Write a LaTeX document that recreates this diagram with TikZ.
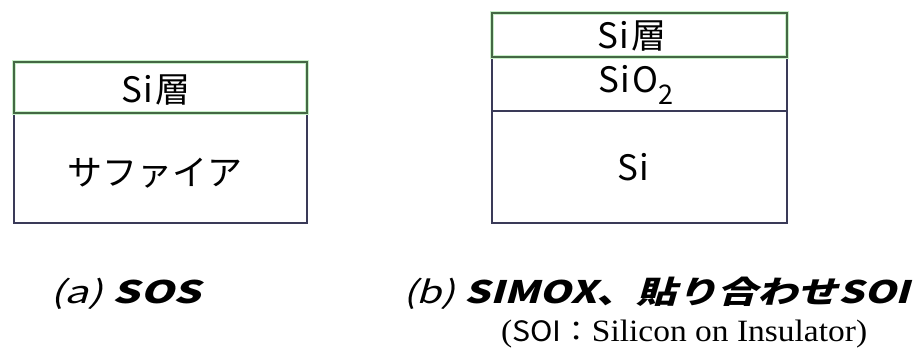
\documentclass[tikz,border=0pt]{standalone}
\usepackage{fontspec}
\usepackage{graphicx}
\setmainfont{Liberation Serif}
\newfontfamily\jpfont{Noto Sans CJK JP}
\newfontfamily\jpslant[FakeSlant=0.22]{Noto Sans CJK JP}
\definecolor{layergreen}{RGB}{68,104,68}
\definecolor{layerglow}{RGB}{200,240,200}
\definecolor{layernavy}{RGB}{58,58,88}
\tikzset{
  wafer/.style={draw=layernavy, line width=1.5pt},
  silayer/.style={draw=layergreen, line width=1.5pt},
  glow/.style={draw=layerglow, line width=3.6pt},
  layertext/.style={font=\jpfont\fontsize{35}{38}\selectfont, inner sep=0pt},
  caption/.style={anchor=base west, inner sep=0pt},
}
\begin{document}
\begin{tikzpicture}[x=1pt, y=-1pt]
  \useasboundingbox (0,0) rectangle (919,354);
  \fill[white] (0,0) rectangle (919,354);

  % (a) silicon on sapphire
  \draw[wafer] (14,62) rectangle (307,223);
  \draw[glow] (14,62) rectangle (307,113);
  \draw[silayer] (14,62) rectangle (307,113);
  \node[layertext] (aSi) at (156,90) {S\kern1pt i\kern2pt 層};
  \node[layertext] (aSub) at (155,173) {サファイア};

  % (b) SIMOX / bonded SOI
  \draw[wafer] (492,13) rectangle (787,223);
  \draw[wafer] (492,57) rectangle (787,111);
  \draw[glow] (492,13) rectangle (787,57);
  \draw[silayer] (492,13) rectangle (787,57);
  \node[layertext] (bSi) at (632,36) {S\kern1pt i\kern2pt 層};
  \node[layertext] (bOx) at (636,85) {S\kern1pt i\kern2pt O\raisebox{-0.35em}{\fontsize{27}{29}\selectfont 2}};
  \node[layertext] (bSub) at (633,167) {S\kern1pt i};

  % captions
  \node[caption] (capA) at (50,303)
    {\scalebox{1.38}[1]{\jpslant\fontsize{31}{34}\selectfont (a) \bfseries SOS}};
  \node[caption] (capB) at (403,303)
    {\scalebox{1.3}[1]{\jpslant\fontsize{31}{34}\selectfont (b) \bfseries SIMOX、貼り合わせSOI}};
  \node[caption] (capNote) at (501,341)
    {\scalebox{1.08}[1]{\fontsize{31}{33}\selectfont ({\jpfont\fontsize{28}{30}\selectfont SOI：}Silicon on Insulator)}};
\end{tikzpicture}
\end{document}
